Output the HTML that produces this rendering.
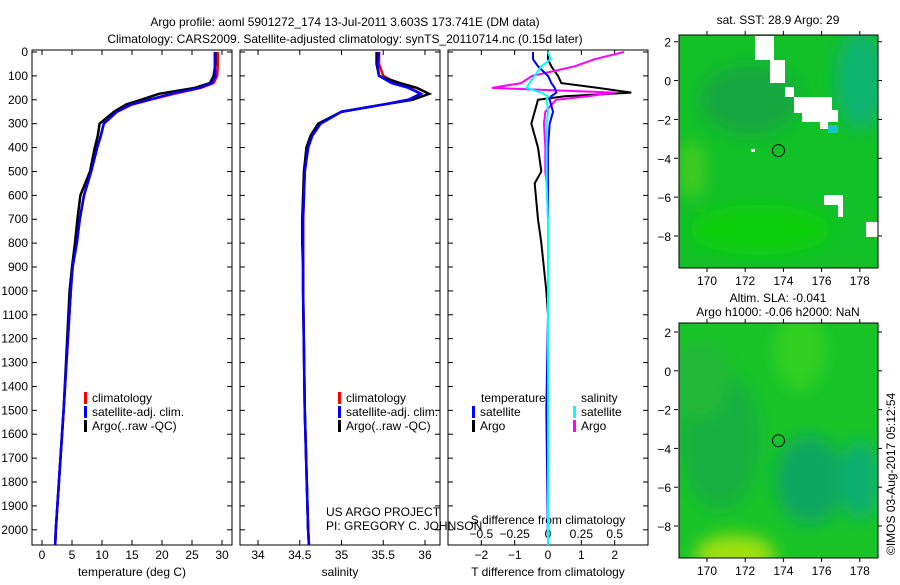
<!DOCTYPE html>
<html><head><meta charset="utf-8"><style>
body{margin:0;background:#fff;font-family:"Liberation Sans",sans-serif;}
svg text{font-family:"Liberation Sans",sans-serif;font-size:12px;fill:#000}
</style></head><body>
<svg id="c" width="900" height="580" xmlns="http://www.w3.org/2000/svg">
<defs>
<clipPath id="clip1"><rect x="679" y="35" width="199" height="233"/></clipPath>
<clipPath id="clip2"><rect x="679" y="323" width="199" height="235"/></clipPath>
<filter id="blur"><feGaussianBlur stdDeviation="8"/></filter>
</defs>
<text x="345" y="26" text-anchor="middle" font-size="13">Argo profile: aoml 5901272_174 13-Jul-2011 3.603S 173.741E (DM data)</text>
<text x="345" y="43" text-anchor="middle" font-size="13">Climatology: CARS2009. Satellite-adjusted climatology: synTS_20110714.nc (0.15d later)</text>
<g id="maps"></g>
<g id="plots"></g>
</svg>
<script>
const depths=[0,50,100,130,150,175,200,220,250,300,350,400,500,600,700,800,900,1000,1500,2000,2063];
const tClim=[29.3,29.3,29.2,28.6,26.5,22,18,15,12.5,10.3,9.8,9.2,8.2,7,6.3,5.8,5.1,4.8,3.6,2.3,2.2];
const tSat=[28.8,28.8,28.9,28.3,26.3,21.5,17.8,14.8,12.5,10.3,9.8,9.2,8.2,7,6.3,5.8,5.1,4.8,3.6,2.3,2.2];
const tArgo=[28.9,28.9,28.6,28,25.5,19.5,16.5,14,12,9.6,9.3,8.8,8,6.4,5.9,5.5,5,4.6,3.6,2.3,2.2];
const sClim=[35.45,35.45,35.5,35.65,35.82,35.95,35.8,35.5,35.0,34.75,34.65,34.6,34.56,34.55,34.54,34.54,34.54,34.54,34.56,34.6,34.61];
const sSat=[35.45,35.43,35.45,35.6,35.8,35.95,35.8,35.5,35.0,34.75,34.65,34.6,34.56,34.55,34.54,34.54,34.54,34.54,34.56,34.6,34.61];
const sArgo=[35.42,35.42,35.45,35.7,35.9,36.05,35.85,35.5,35.0,34.72,34.63,34.58,34.55,34.54,34.53,34.53,34.54,34.54,34.56,34.6,34.61];
const dDepths=[0,30,60,100,130,150,170,185,200,250,300,400,500,550,700,800,1000,1100,1500,2063];
const dtSat=[-0.45,-0.45,-0.3,0,0.1,0.2,0.25,0.1,0.05,0.15,0.05,0,0,0,0,0,0,0,-0.05,0];
const dtArgo=[0,0,0.1,0.3,0.4,1.5,2.5,0.5,-0.3,-0.4,-0.5,-0.3,-0.2,-0.4,-0.3,-0.2,-0.05,0,0,0];
const dsSat=[0,0.02,-0.05,-0.1,-0.14,-0.16,-0.05,0,-0.01,0,-0.01,-0.01,-0.01,-0.01,0,0,0,0,0,0];
const dsArgo=[0.57,0.35,0.2,-0.12,-0.2,-0.42,0.5,0.3,0.06,-0.02,-0.03,-0.02,-0.02,-0.01,0,0,0,0,0,0];
const NS="http://www.w3.org/2000/svg";
const svg=document.getElementById('plots');
function el(t,a,p){const e=document.createElementNS(NS,t);for(const k in a)e.setAttribute(k,a[k]);(p||svg).appendChild(e);return e;}
const Y0=50,Y1=545,yS=d=>52+d*0.2389;
function panel(x0,name,xmin,xmax,ticks,lab,xlabel){
 const xs=v=>x0+(v-xmin)/(xmax-xmin)*200;
 const r=el('rect',{x:x0,y:Y0,width:200,height:Y1-Y0,fill:'none',stroke:'#000','stroke-width':1});
 
 ticks.forEach((v,i)=>{const x=xs(v);el('line',{x1:x,x2:x,y1:Y1,y2:Y1-5,stroke:'#000'});el('line',{x1:x,x2:x,y1:Y0,y2:Y0+5,stroke:'#000'});
  const t=el('text',{x:x,y:Y1+14,'text-anchor':'middle'});t.textContent=lab[i];
  });
 for(let d=0;d<=2000;d+=100){const y=yS(d);el('line',{x1:x0,x2:x0+5,y1:y,y2:y,stroke:'#000'});el('line',{x1:x0+195,x2:x0+200,y1:y,y2:y,stroke:'#000'});}
 if(xlabel){const t=el('text',{x:x0+100,y:Y1+31,'text-anchor':'middle'});t.textContent=xlabel;
  }
 return xs;
}
function line(xs,dep,vals,col,name,w){const p=el('polyline',{points:vals.map((v,i)=>xs(v)+','+yS(dep[i])).join(' '),fill:'none',stroke:col,'stroke-width':w||2.5});
 }
function txt(x,y,s,name,extra){const t=el('text',Object.assign({x:x,y:y},extra||{}));t.textContent=s;return t;}
function leg(x,y,col,s,name){el('rect',{x:x,y:y-10,width:3,height:12,fill:col});txt(x+8,y,s,name);}
for(let d=0;d<=2000;d+=100){const t=el('text',{x:28,y:yS(d)+4,'text-anchor':'end'});t.textContent=d;
 }
const x1=panel(32,'temperature-panel',-1.667,31.667,[0,5,10,15,20,25,30],['0','5','10','15','20','25','30'],'temperature (deg C)');
line(x1,depths,tClim,'#f00','temperature-climatology-line');
line(x1,depths,tArgo,'#000','temperature-argo-line');
line(x1,depths,tSat,'#00f','temperature-satellite-line');
leg(84,402,'#f00','climatology','legend-climatology');leg(84,416,'#00f','satellite-adj. clim.','legend-satellite');leg(84,430,'#000','Argo(..raw -QC)','legend-argo');
const x2=panel(240,'salinity-panel',33.784,36.18,[34,34.5,35,35.5,36],['34','34.5','35','35.5','36'],'salinity');
line(x2,depths,sClim,'#f00','salinity-climatology-line');
line(x2,depths,sArgo,'#000','salinity-argo-line');
line(x2,depths,sSat,'#00f','salinity-satellite-line');
leg(338,402,'#f00','climatology','legend-climatology-s');leg(338,416,'#00f','satellite-adj. clim.','legend-satellite-s');leg(338,430,'#000','Argo(..raw -QC)','legend-argo-s');
txt(326,516,'US ARGO PROJECT','project-label');txt(326,530,'PI: GREGORY C. JOHNSON','pi-label');
const x3=panel(448,'difference-panel',-3,3,[-2,-1,0,1,2],['\u22122','\u22121','0','1','2'],'T difference from climatology');
const xsS=v=>448+(v+0.75)/1.5*200;
[-0.5,-0.25,0,0.25,0.5].forEach((v,i)=>{txt(xsS(v),538,['\u22120.5','\u22120.25','0','0.25','0.5'][i],'s-diff-tick-label',{'text-anchor':'middle'});});
txt(548,524,'S difference from climatology','s-diff-axis-title',{'text-anchor':'middle'});
line(x3,dDepths,dtArgo,'#000','t-diff-argo-line',2);
line(xsS,dDepths,dsArgo,'#f0f','s-diff-argo-line',2);
line(x3,dDepths,dtSat,'#00f','t-diff-satellite-line',2);
line(xsS,dDepths,dsSat,'#0ff','s-diff-satellite-line',2);
txt(481,402,'temperature','legend-temperature-header');txt(581,402,'salinity','legend-salinity-header');
leg(472,416,'#00f','satellite','legend-t-satellite');leg(472,430,'#000','Argo','legend-t-argo');
leg(573,416,'#0ff','satellite','legend-s-satellite');leg(573,430,'#f0f','Argo','legend-s-argo');
const mg=document.getElementById('maps');
function map(y0,y1,name,lat2y,lat8y,clip,base,blobs){
 const g=el('g',{},mg);
 const inner=el('g',{'clip-path':'url(#'+clip+')'},g);
 el('rect',{x:679,y:y0,width:199,height:y1-y0,fill:base},inner);
 const bg=el('g',{filter:'url(#blur)'},inner);
 blobs.forEach(b=>el('ellipse',{cx:b[0],cy:b[1],rx:b[2],ry:b[3],fill:b[4]},bg));
 el('rect',{x:679,y:y0,width:199,height:y1-y0,fill:'none',stroke:'#000'},g);
 const ly=l=>lat2y+(2-l)*(lat8y-lat2y)/10, lx=o=>707+(o-170)*19.1;
 [2,0,-2,-4,-6,-8].forEach(l=>{const y=ly(l);el('line',{x1:678,x2:674,y1:y,y2:y,stroke:'#000'},g);el('line',{x1:878,x2:882,y1:y,y2:y,stroke:'#000'},g);
  txt(671,y+5,l<0?'\u2212'+(-l):''+l,'map-lat-label',{'text-anchor':'end'});});
 [170,172,174,176,178].forEach(o=>{const x=lx(o);el('line',{x1:x,x2:x,y1:y0,y2:y0-4,stroke:'#000'},g);el('line',{x1:x,x2:x,y1:y1,y2:y1+4,stroke:'#000'},g);
  txt(x,y1+17,o,'map-lon-label',{'text-anchor':'middle'});});
 return {lx,ly,g,inner};
}
const m1=map(35,268,'sst-map',41.7,236,'clip1','#12c028',[[750,100,50,35,'#12a840'],[860,80,25,50,'#10b470'],[692,170,14,30,'#40cc20'],[760,230,70,25,'#10d010']]);
[[755,36,19,24],[770,60,15,23],[785,87,9,10],[794,97,38,16],[802,110,36,12],[820,122,8,7],[824,195,19,10],[838,205,5,12],[866,222,12,15],[751,149,4,3]].forEach(r=>el('rect',{x:r[0],y:r[1],width:r[2],height:r[3],fill:'#fff'},m1.inner));
el('rect',{x:828,y:125,width:10,height:8,fill:'#10c8c8'},m1.inner);
el('circle',{cx:m1.lx(173.741),cy:m1.ly(-3.603),r:6,fill:'none',stroke:'#000'},m1.g);
txt(778,24,'sat. SST: 28.9 Argo: 29','sst-map-title',{'text-anchor':'middle'});
const m2=map(323,558,'sla-map',332,526,'clip2','#18c428',[[720,440,40,70,'#18b040'],[810,480,35,45,'#10a860'],[860,480,20,40,'#10b070'],[735,555,40,20,'#a0e010'],[800,350,25,40,'#30d020'],[700,380,30,40,'#20b838']]);
el('circle',{cx:m2.lx(173.741),cy:m2.ly(-3.603),r:6,fill:'none',stroke:'#000'},m2.g);
txt(778,302,'Altim. SLA: -0.041','sla-map-title',{'text-anchor':'middle'});
txt(778,316,'Argo h1000: -0.06 h2000: NaN','sla-map-subtitle',{'text-anchor':'middle'});
txt(0,0,'\u00a9IMOS 03-Aug-2017 05:12:54','timestamp-label',{transform:'translate(895,555) rotate(-90)'});
</script>
</body></html>
